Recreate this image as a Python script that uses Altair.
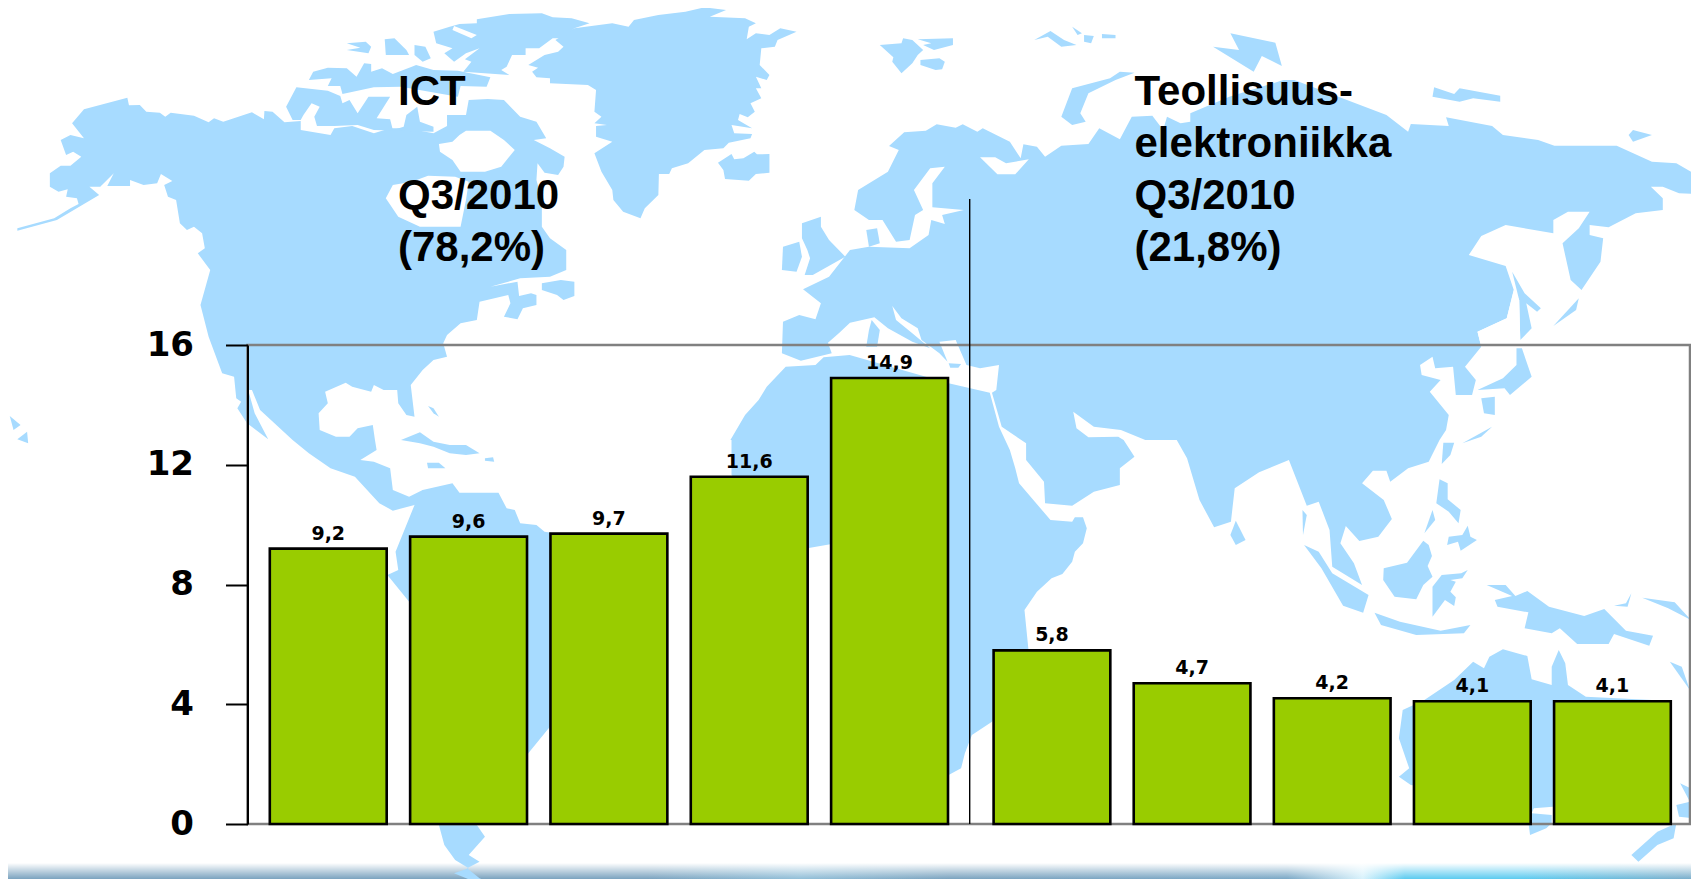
import altair as alt

# --- chart values ---
left_cats = ["1", "2", "3", "4", "5"]
left_vals = [9.2, 9.6, 9.7, 11.6, 14.9]
left_text = ["9,2", "9,6", "9,7", "11,6", "14,9"]
right_cats = ["6", "7", "8", "9", "10"]
right_vals = [5.8, 4.7, 4.2, 4.1, 4.1]
right_text = ["5,8", "4,7", "4,2", "4,1", "4,1"]
y_ticks = [0, 4, 8, 12, 16]
ict_head = ["ICT"]
ict_lines = ["Q3/2010", "(78,2%)"]
ind_lines = ["Teollisuus-", "elektroniikka", "Q3/2010", "(21,8%)"]

# --- backdrop map outlines ---
NORTH_AMERICA = [("NW", [(32,692),(32,685),(100,655),(130,625),(145,612),(142,595),(122,590),(125,568),(108,575),(92,560),(92,520),(112,497),(130,497),(150,470),(135,455),(122,465),(112,420),(130,405),(155,415),(133,370),(155,328),(235,293),(238,316),(258,315),(270,335),(295,338),(305,350),(315,338),(358,347),(385,367),(395,355),(412,365),(465,337),(487,358),(488,333),(503,335),(525,367),(555,363),(555,390),(610,405),(617,385),(650,378),(690,400),(720,385),(750,385),(800,400),(825,378),(825,345),(860,345),(865,300),(900,297),(930,300),(960,350),(990,365),(1008,415),(985,420),(1015,445),(1042,470),(1040,500),(1030,525),(1005,518),(992,490),(990,540),(1000,600),(1000,680),(1015,715),(1045,750),(1045,810),(1015,830),(960,835),(905,860),(955,845),(958,888),(980,880),(990,885),(990,915),(965,925),(955,958),(930,950),(942,910),(938,885),(885,905),(880,960),(850,970),(825,1005),(818,1030),(825,1070),(800,1080),(780,1110),(758,1155),(765,1250),(750,1245),(735,1210),(733,1170),(708,1170),(690,1155),(685,1175),(650,1160),(638,1148),(600,1175),(605,1210),(588,1240),(590,1290),(620,1310),(645,1310),(660,1285),(688,1275),(692,1320)]),
 ("SW", [(695,30),(665,60),(690,65),(720,85),(725,150),(755,170),(780,150),(790,170),(765,195),(725,212),(700,190),(655,110),(610,85),(570,40),(540,0)]),
 ("NW", [(480,1230),(465,1170),(458,1170),(470,1240),(495,1318),(456,1270),(438,1225),(445,1205),(436,1195),(432,1130),(410,1120),(385,1010),(370,915),(388,810),(365,760),(378,745),(373,700),(358,680),(345,690),(332,670),(325,600),(310,590),(303,555),(318,543),(297,522),(290,550),(265,555),(240,540),(240,558),(198,558),(210,520),(185,560),(165,560),(183,585),(105,660)])]
SOUTH_AMERICA = [("SW", [(765,195),(780,150),(835,130),(848,158),(920,158),(935,205),(950,210),(960,250),(990,255),(1005,275),(1045,285),(1225,295),(1200,500),(1010,870),(975,940),(900,1155),(880,1155),(895,1190),(865,1245),(885,1265),(862,1285),(885,1315),(925,1341),(900,1341),(838,1300),(865,1285),(840,1260),(820,1215),(810,1155),(755,485),(715,405),(735,390),(730,335)])]
EURASIA = [("NW", [(1445,965),(1475,945),(1505,958),(1515,910),(1482,868),(1530,830)]),
 ("NE", [(0,750),(35,740),(110,745),(145,705),(150,660),(175,672),(170,645),(210,630),(152,622),(152,550),(175,500),(148,505),(118,570),(135,630),(120,645),(110,720),(85,725),(60,660),(35,660),(8,630),(15,570),(70,515),(90,450),(72,438),(100,397),(140,392),(160,373),(195,383),(208,373),(235,395),(245,385),(295,425),(315,475),(320,433),(345,440),(360,470),(390,437),(440,432),(460,385),(498,418),(520,350),(558,347),(578,390),(585,350),(610,370),(628,365),(628,340),(700,290),(800,240),(820,240),(990,345),(1030,395),(1035,372),(1105,378),(1100,352),(1185,378),(1205,405),(1270,420),(1300,437),(1415,437),(1480,485),(1525,490),(1568,530),(1568,550),(1555,560),(1560,582),(1530,580),(1500,560),(1478,560),(1500,595),(1500,630),(1450,640),(1400,682),(1365,675),(1365,705),(1390,715),(1385,785),(1350,870),(1330,840),(1315,730),(1345,685),(1365,635),(1325,635),(1298,660),(1298,700),(1210,675),(1165,708),(1142,765),(1210,798),(1225,870),(1212,955),(1158,995),(1165,1040),(1150,1070),(1135,1100),(1155,1140),(1148,1185),(1118,1185),(1113,1100),(1080,1105),(1075,1070),(1052,1095),(1055,1125),(1090,1140),(1070,1175),(1105,1245),(1100,1290)]),
 ("SE", [(1088,0),(1068,65),(1030,85),(997,125),(990,92),(965,92),(945,130),(985,180),(1000,237),(975,290),(940,303),(915,258),(905,310),(930,370),(945,435),(890,380),(885,270),(865,185),(843,197),(810,60),(755,97),(710,145),(703,245),(672,262),(645,180),(622,55),(603,0)]),
 ("NE", [(545,1320),(500,1290),(450,1280),(412,1235),(418,1285),(440,1312),(495,1310)]),
 ("SE", [(505,0),(525,50),(498,85),(498,135),(450,155),(410,197),(360,190),(358,125),(325,60),(325,10)]),
 ("NE", [(280,1280),(262,1178),(270,1170),(275,1095),(240,1105),(215,1095),(195,1020),(165,1025),(180,1085),(165,1060),(132,1020),(125,985),(95,955),(78,918),(85,960),(115,1000),(148,1045),(115,1025),(70,985),(45,952),(0,968)]),
 ("NW", [(1548,1000),(1528,1028),(1535,1060),(1478,1082),(1443,1060)])]
AFRICA = [("NW", [(1450,1100),(1505,1095),(1520,1072),(1568,1065)]),
 ("NE", [(182,1150),(258,1178),(275,1280),(295,1350)]),
 ("SE", [(305,85),(312,130),(370,240),(410,245),(415,232),(430,232),(437,265),(430,310),(415,335),(410,365),(392,402),(372,415),(345,455),(322,510),(330,640),(262,845),(225,885),(212,940),(205,985),(182,1005),(100,1005)]),
 ("SW", [(1535,312),(1490,325),(1350,105),(1350,0)]),
 ("NW", [(1348,1320),(1375,1245),(1400,1200),(1415,1160)])]
AUSTRALIA = [("SE", [(1020,810),(1060,780),(1115,720),(1150,665),(1170,685),(1180,650),(1205,628),(1250,648),(1258,718),(1295,735),(1295,680),(1308,630),(1320,670),(1325,735),(1358,770),(1480,780),(1500,960),(1400,1100),(1297,1100),(1262,1105),(1258,1120),(1295,1125),(1295,1150),(1285,1165),(1255,1185),(1250,1120),(1100,1050),(1035,1035),(1013,1010),(1032,985),(1013,895)])]
ISLANDS = [
 ("NW", [(975,195),(1005,165),(1030,155),(1040,140),(1025,120),(1060,85),(1130,70),(1160,80),(1170,60),(1215,45),(1265,35),(1300,22),(1340,30),(1310,50),(1375,55),(1395,70),(1382,80),(1378,118),(1395,100),(1420,105),(1440,85),(1470,95),(1435,120),(1430,140),(1405,145),(1402,195),(1420,225),(1415,240),(1395,230),(1405,265),(1395,265),(1405,295),(1385,310),(1393,335),(1380,352),(1365,342),(1362,360),(1388,385),(1350,375),(1355,400),(1388,402),(1385,415),(1345,428),(1335,445),(1300,450),(1270,490),(1240,505),(1235,522),(1216,522),(1215,585),(1190,625),(1182,655),(1150,635),(1132,600),(1130,570),(1110,515),(1097,460),(1130,425),(1100,410),(1100,378),(1120,375),(1097,370),(1110,350),(1097,335),(1100,270),(1085,255),(1015,250),(1015,235),(990,232),(982,215),(993,203)]),
 ("NW", [(1325,488),(1350,462),(1355,478),(1372,475),(1392,455),(1397,463),(1420,462),(1420,518),(1395,522),(1382,542),(1338,537),(1335,510)]),
 ("NW", [(800,95),(830,80),(848,72),(880,70),(880,58),(940,42),(1000,40),(1020,52),(1055,55),(1088,70),(1060,85),(1040,115),(1020,115),(995,145),(970,145),(970,165),(945,165),(935,200),(925,210),(940,225),(855,215),(870,185),(858,178),(885,145),(860,160),(838,185),(820,160),(835,145),(805,130)]),
 ("NW", [(570,240),(578,215),(605,203),(640,205),(658,230),(672,190),(685,192),(685,215),(705,205),(725,222),(760,200),(768,195),(800,210),(845,212),(905,232),(898,260),(850,258),(845,290),(740,260),(690,262),(632,282),(628,258),(605,258),(612,235)]),
 ("NW", [(528,320),(547,262),(605,272),(628,288),(632,310),(645,300),(660,340),(680,290),(720,290),(695,355),(720,358),(725,390),(745,380),(750,345),(770,320),(775,365),(800,380),(800,395),(690,390),(660,375),(617,378),(585,378),(580,350),(590,320),(575,310),(560,345),(555,360),(540,360)]),
 ("NW", [(640,130),(675,125),(685,140),(680,160),(640,150),(665,143)]),
 ("NW", [(710,118),(728,115),(750,150),(755,165),(712,165)]),
 ("NW", [(765,135),(785,140),(795,175),(780,185),(765,165)]),
 ("NW", [(1000,850),(1035,840),(1060,845),(1060,888),(1040,900),(1028,885),(1000,870)]),
 ("NW", [(1480,670),(1515,650),(1515,680),(1530,720),(1560,770),(1500,825),(1485,825),(1495,775),(1490,750),(1480,715)]),
 ("NW", [(1445,740),(1475,725),(1480,770),(1470,815),(1443,810)]),
 ("NE", [(30,690),(50,685),(55,730),(35,740)]),
 ("NE", [(40,960),(55,990),(50,1040),(30,1040),(35,990)]),
 ("NE", [(182,1090),(205,1092),(200,1103),(185,1103)]),
 ("NW", [(18,1248),(38,1275),(25,1290)]),
 ("NW", [(50,1295),(52,1330),(32,1318)]),
 ("NW", [(740,1320),(775,1297),(800,1325),(830,1335),(860,1335),(885,1360),(860,1365),(830,1360),(800,1340),(775,1330)]),
 ("SW", [(788,68),(810,68),(822,85),(790,85)]),
 ("SW", [(895,55),(910,52),(912,65),(895,62)]),
 ("NW", [(790,1218),(800,1225),(810,1250),(800,1240)]),
 ("NE", [(55,135),(95,130),(98,115),(115,120),(135,150),(125,165),(115,190),(95,220),(78,185),(80,172)]),
 ("NE", [(125,118),(190,115),(190,135),(155,150),(135,135),(150,130)]),
 ("NE", [(130,180),(165,175),(175,185),(170,208),(158,210),(130,195)]),
 ("NE", [(340,120),(370,93),(395,120),(418,135),(390,140),(365,110)]),
 ("NE", [(410,80),(428,100),(420,105)]),
 ("NE", [(432,105),(450,108),(445,130),(432,125)]),
 ("NE", [(465,102),(490,105),(490,115),(465,115)]),
 ("NE", [(390,350),(410,265),(480,235),(498,215),(525,218),(490,240),(440,280),(425,340),(435,365),(410,375)]),
 ("NE", [(702,100),(785,128),(797,198),(760,168),(745,215),(670,140),(718,150)]),
 ("NE", [(1078,262),(1115,282),(1125,265),(1200,287),(1200,305),(1150,295),(1125,305),(1075,290)]),
 ("NE", [(1445,390),(1480,405),(1445,425),(1437,405)]),
 ("NE", [(1222,815),(1245,880),(1275,925),(1268,935),(1248,910),(1258,985),(1237,1020),(1235,900)]),
 ("NE", [(1345,895),(1340,930),(1298,978)]),
 ("NE", [(1230,1045),(1240,1045),(1258,1130),(1218,1185),(1208,1165),(1158,1170),(1205,1135),(1230,1095)]),
 ("NE", [(1165,1195),(1190,1190),(1190,1245),(1170,1240)]),
 ("NE", [(1185,1280),(1165,1310),(1130,1330)]),
 ("SE", [(1095,8),(1115,8),(1108,45),(1092,72)]),
 ("SE", [(712,242),(730,300),(712,315),(702,285)]),
 ("SE", [(838,315),(865,335),(890,400),(957,465),(947,518),(910,497),(870,385)]),
 ("SE", [(968,518),(1015,545),(1090,572),(1145,555),(1133,580),(1045,585),(980,555)]),
 ("SE", [(985,385),(1028,368),(1058,302),(1068,315),(1074,348),(1066,378),(1075,410),(1058,435),(1045,478),(1005,470),(984,420)]),
 ("SE", [(1140,390),(1130,415),(1108,420),(1118,425),(1108,455),(1118,472),(1115,498),(1098,480),(1075,530),(1075,440),(1092,405),(1128,400)]),
 ("SE", [(1088,118),(1103,130),(1103,178),(1127,210),(1123,250),(1105,215),(1082,190)]),
 ("SE", [(1075,210),(1080,240),(1060,280)]),
 ("SE", [(1105,290),(1130,285),(1140,257),(1145,290),(1157,300),(1127,332),(1122,305),(1102,315)]),
 ("SE", [(1175,435),(1210,435),(1228,468),(1250,453),(1290,500),(1355,528),(1392,507),(1432,572),(1482,587),(1475,617),(1410,582),(1400,612),(1342,612),(1310,565),(1295,580),(1245,565),(1252,517),(1195,500),(1190,480),(1222,468)]),
 ("SE", [(1442,460),(1435,500),(1410,497),(1432,490)]),
 ("SE", [(1462,473),(1522,487),(1552,540),(1510,505)]),
 ("SE", [(1513,665),(1535,680),(1550,750)]),
 ("SE", [(1442,1245),(1490,1175),(1525,1150),(1520,1195),(1490,1215),(1455,1265)]),
 ("SE", [(1532,1030),(1565,1055),(1558,1135),(1530,1130),(1525,1095),(1550,1085)]),
 ("SE", [(835,210),(843,225),(836,285)]),
]
SEAS = [
 ("NW", [(848,405),(835,425),(810,432),(812,455),(835,480),(850,515),(895,515),(925,500),(950,450),(930,420),(905,392),(860,392)]),
 ("NW", [(790,527),(840,530),(865,545),(860,600),(855,640),(850,680),(775,680),(735,650),(712,595),(725,555),(760,545)]),
 ("NW", [(838,78),(880,105),(870,115),(835,90)]),
 ("NE", [(240,472),(268,472),(288,490),(330,478),(305,523),(272,523)]),
 ("NE", [(1225,870),(1212,955),(1158,995),(1165,1040),(1237,1020),(1235,900)]),
]
QUADRANT_ORIGIN = {"NW": (0, 0), "NE": (850, 0), "SW": (0, 440), "SE": (850, 440)}


def to_px(segment):
    q, pts = segment
    ox, oy = QUADRANT_ORIGIN[q]
    return [[ox + x / 1.8455, oy + y / 3.0] for x, y in pts]


def feature(ring):
    ring = ring + [ring[0]]
    return {"type": "Feature", "properties": {},
            "geometry": {"type": "Polygon", "coordinates": [ring]}}


def joined(parts):
    ring = []
    for seg in parts:
        ring += to_px(seg)
    return ring


land = [feature(joined(p)) for p in (NORTH_AMERICA, SOUTH_AMERICA, EURASIA, AFRICA, AUSTRALIA)]
land += [feature(to_px(s)) for s in ISLANDS]
water = [feature(to_px(s)) for s in SEAS]

FONT = "Liberation Sans"
WIDE = "DejaVu Sans"
PROJ = dict(type="identity", scale=1, translate=[-8, -8])
y_scale = alt.Scale(domain=[0, 16], range=[816, 337])
y_enc = alt.Y(
    "v:Q",
    scale=y_scale,
    axis=alt.Axis(
        values=y_ticks, title=None, grid=False, offset=-239.5, zindex=1,
        domainColor="black", domainWidth=2, tickColor="black", tickWidth=2,
        tickSize=22, labelFont=WIDE, labelFontWeight="bold", labelFontSize=34,
        labelColor="black", labelPadding=32, labelFlush=False, labelOverlap=False,
    ),
)

base_band = alt.Chart(alt.Data(values=[{"a": 0}])).mark_rect(
    fill=alt.Gradient(gradient="linear", x1=0, x2=1, y1=0, y2=0, stops=[
        alt.GradientStop(color="#7BA3BF", offset=0),
        alt.GradientStop(color="#7BA3BF", offset=0.38),
        alt.GradientStop(color="#92BFD8", offset=0.47),
        alt.GradientStop(color="#7BA3BF", offset=0.56),
        alt.GradientStop(color="#7BA8C6", offset=0.76),
        alt.GradientStop(color="#D8F2FC", offset=0.805),
        alt.GradientStop(color="#5CCBF0", offset=0.83),
        alt.GradientStop(color="#5CCBF0", offset=0.9),
        alt.GradientStop(color="#7BAECB", offset=1),
    ])
).encode(x=alt.value(0), x2=alt.value(1683), y=alt.value(855), y2=alt.value(871))
fade = alt.Chart(alt.Data(values=[{"a": 0}])).mark_rect(
    fill=alt.Gradient(gradient="linear", x1=0, x2=0, y1=0, y2=1, stops=[
        alt.GradientStop(color="rgba(255,255,255,1)", offset=0),
        alt.GradientStop(color="rgba(255,255,255,0)", offset=1),
    ])
).encode(x=alt.value(0), x2=alt.value(1683), y=alt.value(855), y2=alt.value(871))

land_layer = alt.Chart(alt.Data(values=land)).mark_geoshape(
    fill="#A7DBFF", strokeWidth=0).project(**PROJ)
sea_layer = alt.Chart(alt.Data(values=water)).mark_geoshape(
    fill="white", strokeWidth=0).project(**PROJ)

frame = alt.Chart(alt.Data(values=[{"a": 0}])).mark_rect(
    fillOpacity=0, stroke="#808080", strokeWidth=2.5
).encode(x=alt.value(239.5), x2=alt.value(1682), y=alt.value(337), y2=alt.value(816))
divider = alt.Chart(alt.Data(values=[{"a": 0}])).mark_rule(
    color="black", strokeWidth=1.4
).encode(x=alt.value(961.7), y=alt.value(191), y2=alt.value(816))


def group(cats, vals, texts, x_range):
    data = alt.Data(values=[{"c": c, "v": v, "t": t} for c, v, t in zip(cats, vals, texts)])
    x_enc = alt.X("c:N", sort=cats, axis=None,
                  scale=alt.Scale(domain=cats, range=x_range, paddingInner=0.167, paddingOuter=0))
    bars = alt.Chart(data).mark_bar(
        fill="#99CC00", stroke="black", strokeWidth=2.6, cornerRadius=0
    ).encode(x=x_enc, y=y_enc, y2=alt.datum(0))
    labels = alt.Chart(data).mark_text(
        font=WIDE, fontWeight="bold", fontSize=19, color="black",
        baseline="alphabetic", dy=-9
    ).encode(x=x_enc, y=y_enc, text="t:N")
    return alt.layer(bars, labels)


def block(lines, x, y):
    return alt.Chart(alt.Data(values=[{"a": 0}])).mark_text(
        font=FONT, fontWeight="bold", fontSize=42, color="black", align="left",
        baseline="alphabetic", lineHeight=52
    ).encode(x=alt.value(x), y=alt.value(y), text=alt.value(lines))


chart = alt.layer(
    base_band, fade, land_layer, sea_layer, frame, divider,
    group(left_cats, left_vals, left_text, [261.8, 940]),
    group(right_cats, right_vals, right_text, [985.6, 1662.8]),
    block(ict_head, 390, 97),
    block(ict_lines, 390, 201),
    block(ind_lines, 1126.5, 97),
).resolve_scale(x="independent").properties(
    width=1683, height=871, padding=0, autosize=alt.AutoSizeParams(type="none"),
    background="white",
).configure_view(stroke=None)

chart.save("out.html", embed_options={"renderer": "svg", "actions": False})
